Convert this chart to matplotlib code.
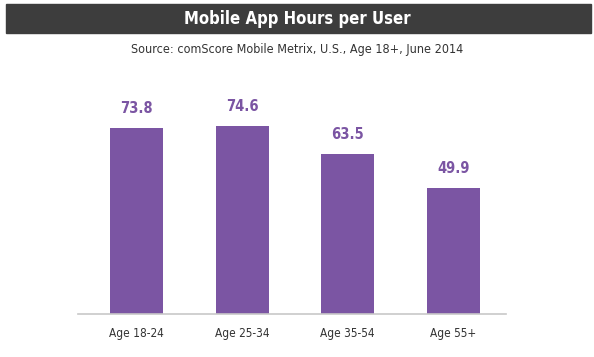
import matplotlib
matplotlib.use("Agg")
import matplotlib.pyplot as plt
from matplotlib.patches import Rectangle

# data
groups = ["Age 18-24", "Age 25-34", "Age 35-54", "Age 55+"]
hours = [73.8, 74.6, 63.5, 49.9]

purple = "#7b55a3"
plt.rcParams['font.family'] = ['DejaVu Sans']
plt.rcParams['font.stretch'] = 'condensed'

fig = plt.figure(figsize=(5.94, 3.57), dpi=100)
W, H = 594.0, 357.0

# dark title bar
fig.patches.append(Rectangle((6 / W, 1 - 33 / H), 585 / W, 29 / H,
                             transform=fig.transFigure, color="#3d3d3d", zorder=0))
fig.text(0.5, 1 - 18.5 / H, "Mobile App Hours per User", color="white",
         fontsize=12, fontweight="bold", ha="center", va="center")
fig.text(0.5, 1 - 50 / H, "Source: comScore Mobile Metrix, U.S., Age 18+, June 2014",
         color="#333333", fontsize=9, ha="center", va="center")

ax = fig.add_axes([78 / W, 1 - 314 / H, (506 - 78) / W, (314 - 70) / H])
x = range(len(groups))
bars = ax.bar(x, hours, width=0.5, color=purple, zorder=2)
for xi, v in zip(x, hours):
    ax.annotate(f"{v}", (xi, v), xytext=(0, 8.5), textcoords="offset points",
                ha="center", va="bottom", color=purple, fontsize=10.5, fontweight="bold")

ax.set_xlim(-0.555, 3.50)
ax.set_ylim(0, 96.8)
ax.set_xticks(list(x))
ax.set_xticklabels(groups, fontsize=8.5, color="#333333")
ax.tick_params(axis="x", length=0, pad=9)
ax.set_yticks([])
for s in ["top", "right", "left"]:
    ax.spines[s].set_visible(False)
ax.spines["bottom"].set_color("#c8c8c8")
ax.spines["bottom"].set_linewidth(1.2)

fig.savefig("out.png", dpi=100)
